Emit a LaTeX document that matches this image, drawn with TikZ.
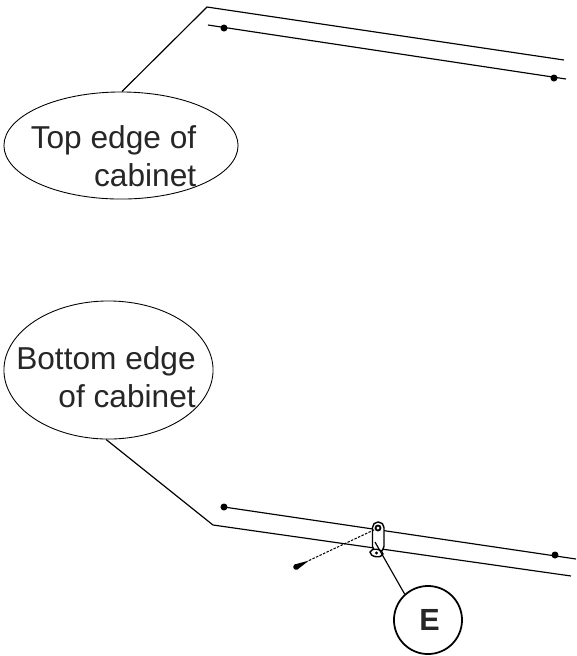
\documentclass[tikz,border=0pt]{standalone}
\usepackage{fontspec}
\setmainfont{Liberation Sans}
\usetikzlibrary{shapes.geometric}
\tikzset{
  edgeline/.style={line width=0.33pt,black},
  bubble/.style={draw,ellipse,line width=0.25pt,inner sep=0pt},
  bubbletext/.style={align=right,inner sep=0pt,font=\fontsize{9pt}{10.8pt}\selectfont,text=black!85},
  fixdot/.style={fill=black,circle,inner sep=0pt,minimum size=0.07cm}
}
\begin{document}
\begin{tikzpicture}[x=0.01cm,y=-0.01cm]
  \useasboundingbox (0,0) rectangle (577,656);
  % top edge
  \coordinate (topcorner) at (207,7);
  \coordinate (topend) at (564,60);
  \coordinate (topinner) at (208,25);
  \coordinate (topinnerend) at (566,79);
  \node[fixdot] (topdot1) at (224,28) {};
  \node[fixdot] (topdot2) at (554,78) {};
  \node[bubble,minimum width=2.34cm,minimum height=1.07cm] (topbubble) at (121,145.5) {};
  \node[bubbletext] (toptext) at (113.5,156) {Top edge of\\cabinet};
  \draw[edgeline] (topbubble.89) -- (topcorner) -- (topend);
  \draw[edgeline] (topinner) -- (topinnerend);
  % bottom edge
  \coordinate (botcorner) at (213,525);
  \coordinate (botend) at (571,576);
  \coordinate (botinner) at (224,507);
  \coordinate (botinnerend) at (576,559);
  \node[fixdot] (botdot1) at (224,507) {};
  \node[fixdot] (botdot2) at (555,555) {};
  \node[bubble,minimum width=2.09cm,minimum height=1.38cm] (botbubble) at (108.5,370) {};
  \node[bubbletext] (bottext) at (106,377) {Bottom edge\\of cabinet};
  \draw[edgeline] (botbubble.-92) -- (botcorner) -- (botend);
  \draw[edgeline] (botinner) -- (botinnerend);
  % bracket and screw
  \draw[line width=0.4pt,fill=white,rounded corners=0.055cm] (372.5,552) -- (372.5,522) -- (384,522) -- (384,552) -- cycle;
  \node[draw,ellipse,line width=0.4pt,fill=white,minimum width=0.13cm,minimum height=0.075cm,inner sep=0pt,rotate=-8] (bracketfoot) at (376.5,553) {};
  \fill (376.5,553) circle (1.6);
  \node[draw,circle,line width=0.5pt,minimum size=0.05cm,inner sep=0pt] (brackethole) at (378,528) {};
  \node[fixdot,minimum size=0.055cm] (screwhead) at (296,567) {};
  \fill (294.5,564.5) -- (309,560.5) -- (297.5,569.5) -- cycle;
  \coordinate (screwtip) at (309,560.5);
  \draw[line width=0.3pt,dash pattern=on 0.7pt off 0.4pt] (screwtip) -- (brackethole);
  % callout
  \node[draw,circle,line width=0.5pt,minimum size=0.68cm,inner sep=0pt,font=\fontsize{8.7pt}{10pt}\selectfont\bfseries,text=black!85] (callout) at (428,620) {\hspace{0.03cm}E};
  \coordinate (bracketmark) at (375,542);
  \draw[edgeline] (bracketmark) -- (callout.132);
\end{tikzpicture}
\end{document}
